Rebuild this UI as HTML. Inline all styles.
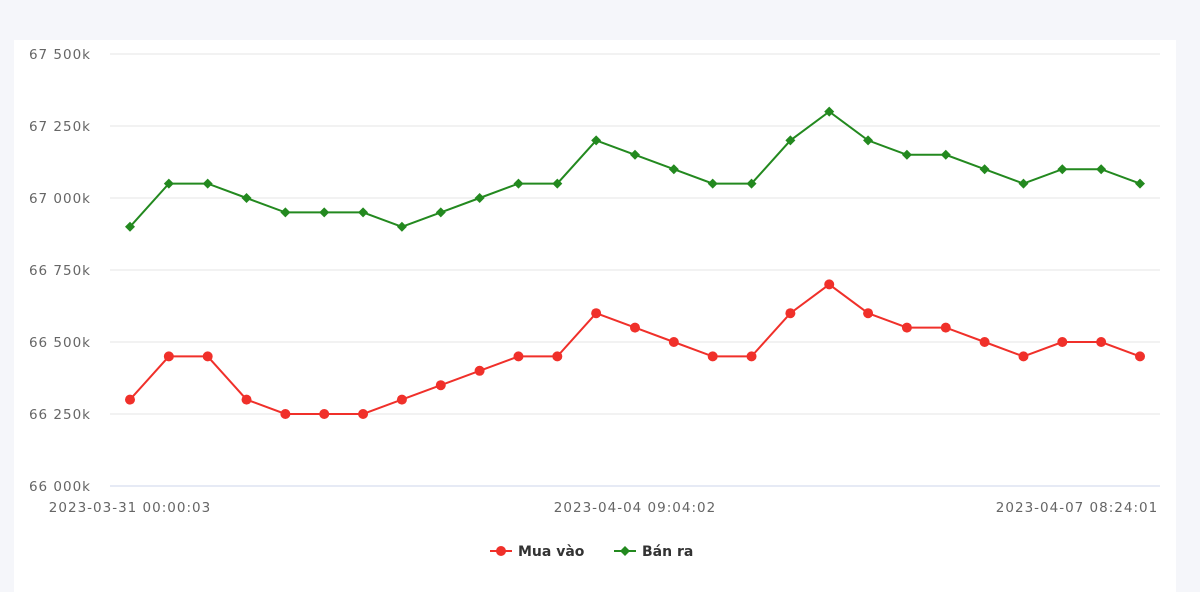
<!DOCTYPE html>
<html><head><meta charset="utf-8"><style>
html,body{margin:0;padding:0;background:#f5f6fa;}
#wrap{position:relative;width:1200px;height:592px;overflow:hidden;}
#panel{position:absolute;left:14px;top:40px;width:1162px;height:560px;background:#fff;}
svg{position:absolute;left:0;top:0;}
text{font-family:"DejaVu Sans","Liberation Sans",sans-serif;}
</style></head><body><div id="wrap"><div id="panel"></div>
<svg id="s" width="1200" height="592" xmlns="http://www.w3.org/2000/svg"></svg></div>
<script>
const s=document.getElementById('s');const NS='http://www.w3.org/2000/svg';
function el(t,a,txt){const e=document.createElementNS(NS,t);for(const k in a)e.setAttribute(k,a[k]);if(txt)e.textContent=txt;s.appendChild(e);return e;}
const Y=v=>486-(v-66000)*72/250;
const labs=['66 000k','66 250k','66 500k','66 750k','67 000k','67 250k','67 500k'];
labs.forEach((l,i)=>{const y=486-i*72;
el('line',{x1:110,x2:1160,y1:y,y2:y,stroke:i==0?'#ccd6eb':'#e6e6e6','stroke-width':1});
el('text',{x:91,y:y+5,'text-anchor':'end','font-size':13.5,'letter-spacing':1,fill:'#666'},l);});
el('text',{x:130,y:512,'text-anchor':'middle','font-size':13.5,'letter-spacing':1,fill:'#666'},'2023-03-31 00:00:03');
el('text',{x:635,y:512,'text-anchor':'middle','font-size':13.5,'letter-spacing':1,fill:'#666'},'2023-04-04 09:04:02');
el('text',{x:1077,y:512,'text-anchor':'middle','font-size':13.5,'letter-spacing':1,fill:'#666'},'2023-04-07 08:24:01');
const g=[66900,67050,67050,67000,66950,66950,66950,66900,66950,67000,67050,67050,67200,67150,67100,67050,67050,67200,67300,67200,67150,67150,67100,67050,67100,67100,67050];
const r=[66300,66450,66450,66300,66250,66250,66250,66300,66350,66400,66450,66450,66600,66550,66500,66450,66450,66600,66700,66600,66550,66550,66500,66450,66500,66500,66450];
const X=i=>130+i*(1010/26);
function series(d,c,marker){el('polyline',{points:d.map((v,i)=>X(i)+','+Y(v)).join(' '),fill:'none',stroke:c,'stroke-width':2});
d.forEach((v,i)=>marker(X(i),Y(v),c));}
const circ=(x,y,c)=>el('circle',{cx:x,cy:y,r:5,fill:c});
const diam=(x,y,c)=>el('path',{d:`M${x} ${y-5}L${x+5} ${y}L${x} ${y+5}L${x-5} ${y}Z`,fill:c});
series(r,'#f0302a',circ);series(g,'#23891f',diam);
el('line',{x1:490,x2:512,y1:551,y2:551,stroke:'#f0302a','stroke-width':2});circ(501,551,'#f0302a');
el('text',{x:518,y:556,'font-size':14,'font-weight':'bold',fill:'#333'},'Mua vào');
el('line',{x1:614,x2:636,y1:551,y2:551,stroke:'#23891f','stroke-width':2});diam(625,551,'#23891f');
el('text',{x:642,y:556,'font-size':14,'font-weight':'bold',fill:'#333'},'Bán ra');
</script></body></html>
